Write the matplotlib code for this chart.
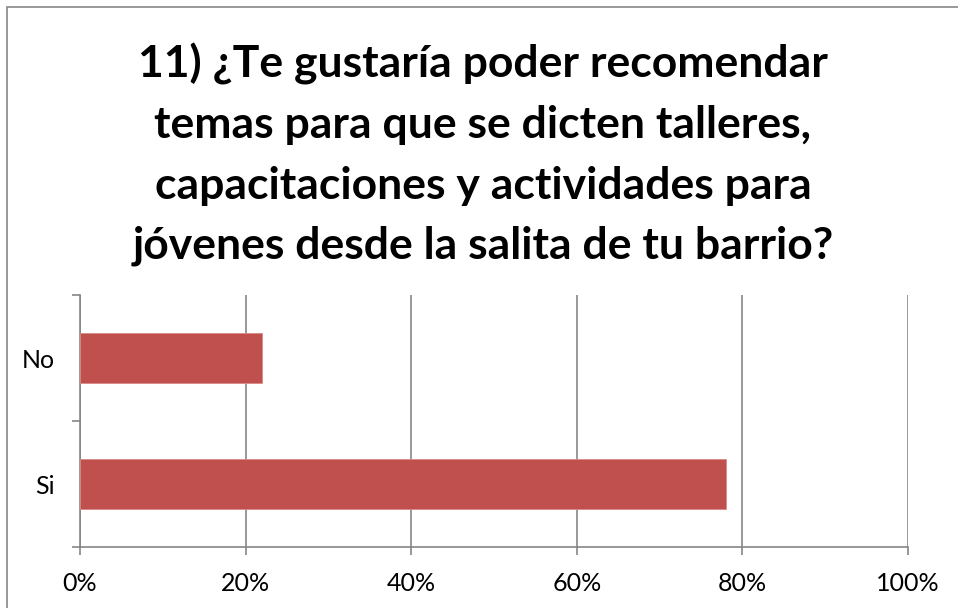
import matplotlib
matplotlib.use('Agg')
import matplotlib.pyplot as plt
from matplotlib.patches import Rectangle
from matplotlib.ticker import FuncFormatter, MultipleLocator

# %% data

categories = ['Si', 'No']
values = [0.78, 0.22]
title = ('11) ¿Te gustaría poder recomendar\n'
         'temas para que se dicten talleres,\n'
         'capacitaciones y actividades para\n'
         'jóvenes desde la salita de tu barrio?')

plt.rcParams['font.family'] = ['Lato', 'DejaVu Sans']

W, H = 958, 608
fig = plt.figure(figsize=(W / 100, H / 100), dpi=100)

# outer chart frame (cut off at right and bottom)
fig.patches.append(Rectangle((7 / W, -0.1), 1.2, (H - 7) / H + 0.1,
                             transform=fig.transFigure, fill=False,
                             edgecolor='#868686', linewidth=1.2))

ax = fig.add_axes([80 / W, (H - 547) / H, (908 - 80) / W, (547 - 295) / H])

grey = '#868686'
ax.barh(range(len(categories)), values, height=0.4, color='#C0504D',
        edgecolor='#D88A88', linewidth=0.6, zorder=3)

ax.set_xlim(0, 1)
ax.set_ylim(-0.5, len(categories) - 0.5)
ax.xaxis.set_major_locator(MultipleLocator(0.2))
ax.xaxis.set_major_formatter(FuncFormatter(lambda v, p: '%d%%' % round(v * 100)))
ax.grid(axis='x', color=grey, linewidth=1.2, zorder=0)

ax.set_yticks([-0.5, 0.5, 1.5])
ax.set_yticklabels([])
ax.set_yticks(range(len(categories)), minor=True)
ax.set_yticklabels(categories, minor=True)
ax.tick_params(axis='y', which='minor', length=0, pad=18, labelsize=18)
ax.tick_params(axis='y', which='major', length=6, width=1.2, color=grey)
ax.tick_params(axis='x', length=6, width=1.2, color=grey, pad=12, labelsize=18)

for s in ['top', 'right']:
    ax.spines[s].set_visible(False)
for s in ['left', 'bottom']:
    ax.spines[s].set_color(grey)
    ax.spines[s].set_linewidth(1.2)

# va='baseline' pins the last line's baseline
fig.text(483 / W, 1 - 259 / H, title, ha='center', va='baseline',
         fontsize=32, fontweight='bold', linespacing=1.62)

fig.savefig('out.png', dpi=100)
